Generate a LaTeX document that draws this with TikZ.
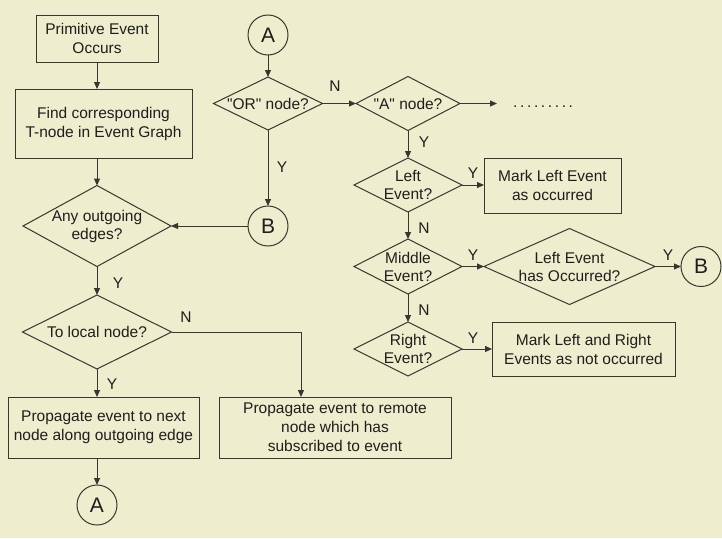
\documentclass[tikz,border=0pt]{standalone}
\usepackage{fontspec}
\setmainfont{Liberation Sans}
\usetikzlibrary{shapes.geometric,arrows.meta}
\definecolor{paper}{RGB}{238,238,206}
\definecolor{ink}{RGB}{30,30,30}
\definecolor{edge}{RGB}{55,55,50}
% straight double quote, set as a glyph so the TeX text mapping leaves it alone
\newcommand{\sq}{\XeTeXglyph\XeTeXglyphindex "quotedbl"\relax}
\tikzset{
  base/.style={font=\fontsize{15.5}{19}\selectfont, text=ink},
  box/.style={base, draw=edge, line width=1pt, inner sep=0pt, outer sep=0pt, align=center},
  dia/.style={diamond, draw=edge, line width=1pt, inner sep=0pt, outer sep=0pt},
  dtext/.style={font=\fontsize{15.5}{18}\selectfont, text=ink, align=center, inner sep=0pt},
  conn/.style={circle, draw=edge, line width=1pt, minimum size=40pt, inner sep=0pt,
    outer sep=0pt, font=\fontsize{21}{21}\selectfont, text=ink},
  arr/.style={draw=edge, line width=1pt, -{Triangle[length=7pt,width=6pt]}},
  yn/.style={base, inner sep=0pt},
}
\begin{document}
\begin{tikzpicture}[x=1pt, y=-1pt]
  \fill[paper] (0,0) rectangle (722,538);
  \useasboundingbox (0,0) rectangle (722,538);

  % left column: local propagation
  \node[box, minimum width=122pt, minimum height=47pt] (p1) at (97,38.5) {Primitive Event\\Occurs};
  \node[box, minimum width=177pt, minimum height=69pt] (p2) at (103.5,123.5) {Find corresponding\\T-node in Event Graph};
  \node[dia, minimum width=148pt, minimum height=81pt,
        label={[dtext]center:{Any outgoing\\edges?}}] (d1) at (97,226) {};
  \node[dia, minimum width=149pt, minimum height=74pt,
        label={[dtext]center:{To local node?}}] (d2) at (97,332) {};
  \node[box, minimum width=191pt, minimum height=61pt] (p3) at (103.5,427.5) {Propagate event to next\\node along outgoing edge};
  \node[box, minimum width=232pt, minimum height=61pt] (p4) at (335,427.5) {Propagate event to remote\\node which has\\subscribed to event};
  \node[conn] (ca2) at (97,505) {A};

  % right part: operator nodes
  \node[conn] (ca1) at (268,35) {A};
  \node[dia, minimum width=109pt, minimum height=53pt,
        label={[dtext]center:{\sq OR\sq{} node?}}] (dor) at (268,103.5) {};
  \node[conn] (cb1) at (268,226) {B};
  \node[dia, minimum width=104pt, minimum height=54pt,
        label={[dtext]center:{\sq A\sq{} node?}}] (dan) at (408,103.5) {};
  \coordinate (danout) at (497,103.5);
  \node[base, inner sep=0pt, anchor=base west] (more) at (513,107)
       {\addfontfeatures{LetterSpace=17}.........};

  \node[dia, minimum width=108pt, minimum height=54pt,
        label={[dtext]center:{Left\\Event?}}] (dl) at (408,185) {};
  \node[box, minimum width=137pt, minimum height=55pt] (ml) at (552.5,185.5) {Mark Left Event\\as occurred};
  \node[dia, minimum width=108pt, minimum height=55pt,
        label={[dtext]center:{Middle\\Event?}}] (dm) at (408,266.5) {};
  \node[dia, minimum width=171pt, minimum height=76pt,
        label={[dtext]center:{Left Event\\has Occurred?}}] (dh) at (569.5,266.5) {};
  \node[conn] (cb2) at (701,266.5) {B};
  \node[dia, minimum width=108pt, minimum height=54pt,
        label={[dtext]center:{Right\\Event?}}] (dr) at (408,349) {};
  \node[box, minimum width=183pt, minimum height=54pt] (mr) at (583.5,349) {Mark Left and Right\\Events as not occurred};

  % connectors, left column
  \draw[arr] (p1.south) -- (p1.south |- p2.north);
  \draw[arr] (d1.north |- p2.south) -- (d1.north);
  \draw[arr] (d1.south) -- (d2.north);
  \draw[arr] (d2.south) -- (d2.south |- p3.north);
  \draw[arr] (d2.east) -| ([xshift=-34pt]p4.north);
  \draw[arr] (ca2.north |- p3.south) -- (ca2.north);

  % connectors, right part
  \draw[arr] (ca1.south) -- (dor.north);
  \draw[arr] (dor.east) -- (dan.west);
  \draw[arr] (dor.south) -- (cb1.north);
  \draw[arr] (cb1.west) -- (d1.east);
  \draw[arr] (dan.east) -- (danout);
  \draw[arr] (dan.south) -- (dl.north);
  \draw[arr] (dl.east) -- (ml.west |- dl.east);
  \draw[arr] (dl.south) -- (dm.north);
  \draw[arr] (dm.east) -- (dh.west);
  \draw[arr] (dh.east) -- (cb2.west);
  \draw[arr] (dm.south) -- (dr.north);
  \draw[arr] (dr.east) -- (mr.west |- dr.east);

  % branch labels
  \node[yn] (y1) at (118,283) {Y};
  \node[yn] (n1) at (186,317) {N};
  \node[yn] (y2) at (112,384) {Y};
  \node[yn] (n2) at (335,86) {N};
  \node[yn] (y3) at (282,167) {Y};
  \node[yn] (y4) at (424,142) {Y};
  \node[yn] (y5) at (473,173) {Y};
  \node[yn] (n3) at (424,228) {N};
  \node[yn] (y6) at (473,255) {Y};
  \node[yn] (y7) at (668,255) {Y};
  \node[yn] (n4) at (424,310) {N};
  \node[yn] (y8) at (473,338) {Y};
\end{tikzpicture}
\end{document}
